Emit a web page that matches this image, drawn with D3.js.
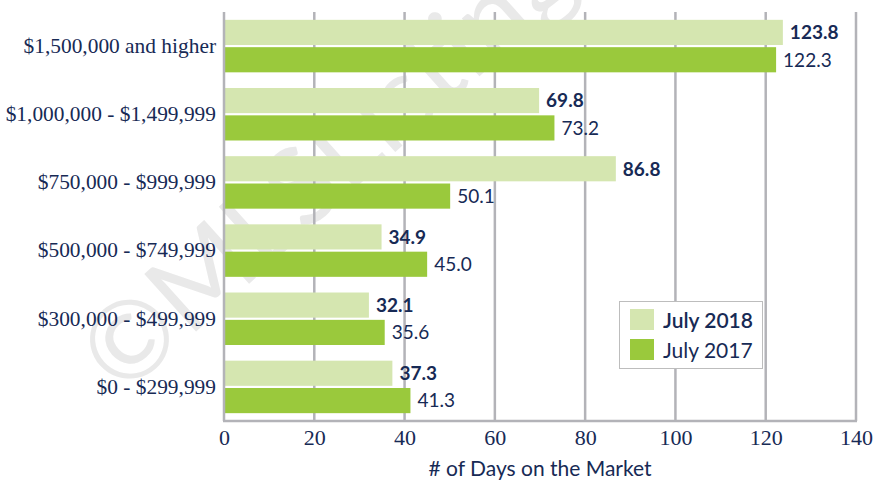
<!DOCTYPE html>
<html><head><meta charset="utf-8">
<script src="https://cdn.jsdelivr.net/npm/d3@7"></script>
<style>body{margin:0;background:#fff}svg{display:block}</style>
</head><body>
<svg id="c" width="875" height="481"></svg>
<script>
const categories = ["$1,500,000 and higher","$1,000,000 - $1,499,999","$750,000 - $999,999","$500,000 - $749,999","$300,000 - $499,999","$0 - $299,999"];
const series = ["July 2018","July 2017"];
const values2018 = [123.8, 69.8, 86.8, 34.9, 32.1, 37.3];
const values2017 = [122.3, 73.2, 50.1, 45.0, 35.6, 41.3];
const xTicks = [0,20,40,60,80,100,120,140];
const colors = ["#d5e6b0","#9ac93c"];
const navy = "#172a55";
const grid = "#b3b3b8";

const svg = d3.select("#c");
const m = {l:224, r:856, t:12, b:421};
const x = d3.scaleLinear().domain([0,140]).range([m.l, m.r]);
const y = d3.scaleBand().domain(categories).range([m.t, m.b]).paddingInner(0.23).paddingOuter(0.115);
const ys = d3.scaleBand().domain(series).range([0, y.bandwidth()]).paddingInner(0.08);

// watermark
svg.append("text").attr("transform","translate(122,398) rotate(-42)")
  .attr("font-family","Lato, sans-serif").attr("font-size",108).attr("font-weight",400)
  .attr("fill","#e9e9e9").text("©MLSListings");

// gridlines
svg.append("g").selectAll("line").data(xTicks.slice(1)).join("line")
  .attr("x1",d=>x(d)).attr("x2",d=>x(d)).attr("y1",m.t).attr("y2",m.b)
  .attr("stroke",grid).attr("stroke-width",2.5);

const data = categories.map((c,i)=>({c, v:[values2018[i], values2017[i]]}));
const g = svg.append("g");
data.forEach(d=>{
  series.forEach((s,j)=>{
    const yy = y(d.c)+ys(s);
    g.append("rect").attr("x",x(0)).attr("y",yy).attr("width",x(d.v[j])-x(0)).attr("height",ys.bandwidth()).attr("fill",colors[j]);
    g.append("text").attr("x",x(d.v[j])+7).attr("y",yy+ys.bandwidth()/2).attr("dy","0.36em")
      .attr("font-family","Lato, sans-serif").attr("font-size",19).attr("font-weight",j===0?700:400)
      .attr("fill",navy).text(d.v[j].toFixed(1));
  });
});

// axes lines
svg.append("line").attr("x1",x(0)).attr("x2",x(0)).attr("y1",m.t).attr("y2",m.b).attr("stroke",grid).attr("stroke-width",2.5);
svg.append("line").attr("x1",x(0)-1).attr("x2",x(140)+1).attr("y1",m.b).attr("y2",m.b).attr("stroke",grid).attr("stroke-width",2.5);

// x tick labels
const xa = svg.append("g").attr("transform",`translate(0,${m.b})`).call(d3.axisBottom(x).tickValues(xTicks).tickSize(0).tickPadding(8).tickFormat(d3.format("d")));
xa.select(".domain").remove();
xa.selectAll("text").attr("font-family","Liberation Serif, serif").attr("font-size",22).attr("fill",navy);

// y labels
const ya = svg.append("g").attr("transform",`translate(${x(0)},0)`).call(d3.axisLeft(y).tickSize(0).tickPadding(8));
ya.select(".domain").remove();
ya.selectAll("text").attr("font-family","Liberation Serif, serif").attr("font-size",21.4).attr("fill",navy);

// axis title
svg.append("text").attr("x",(x(0)+x(140))/2).attr("y",476).attr("text-anchor","middle")
  .attr("font-family","Lato, sans-serif").attr("font-size",21).attr("fill",navy).text("# of Days on the Market");

// legend
const lg = svg.append("g");
lg.append("rect").attr("x",619.5).attr("y",301.5).attr("width",143).attr("height",67).attr("fill","#fff").attr("stroke","#bdbdbd").attr("stroke-width",1);
series.forEach((s,j)=>{
  lg.append("rect").attr("x",630).attr("y",309+j*30).attr("width",24).attr("height",21).attr("fill",colors[j]);
  lg.append("text").attr("x",663).attr("y",320+j*30).attr("dy","0.36em").attr("font-family","Lato, sans-serif")
    .attr("font-size",21).attr("font-weight",j===0?600:400).attr("fill",navy).text(s);
});
</script>
</body></html>
